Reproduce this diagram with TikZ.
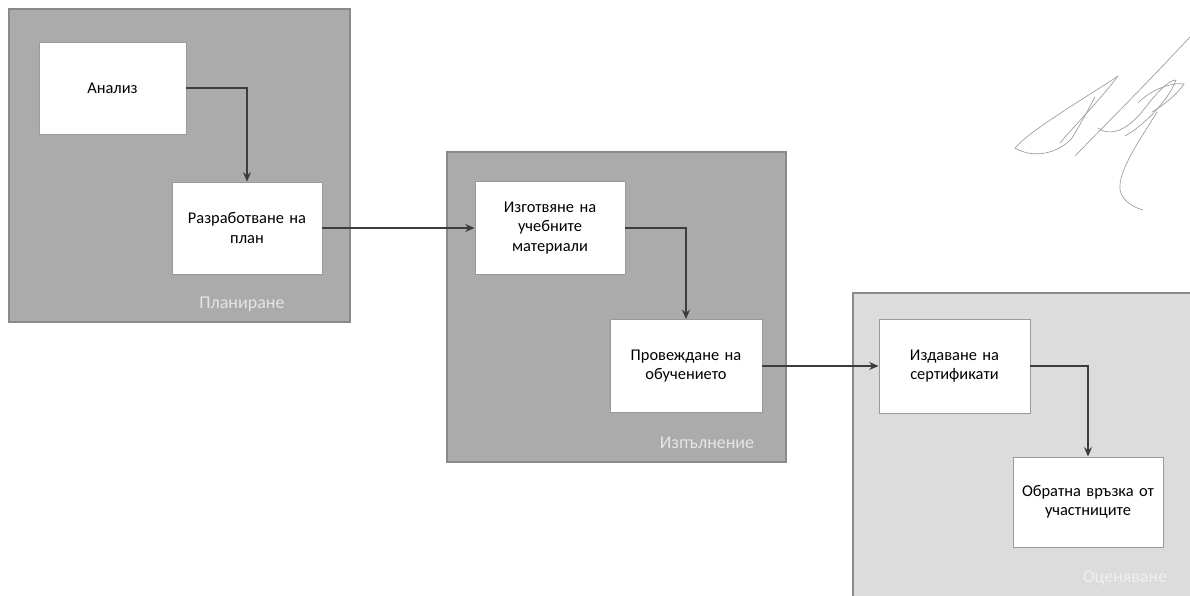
\documentclass[tikz,border=0pt]{standalone}
\usepackage{fontspec}
\setmainfont{Carlito}
\usetikzlibrary{arrows.meta}
\definecolor{panelA}{HTML}{ABABAB}
\definecolor{panelC}{HTML}{DCDCDC}
\definecolor{panelEdge}{HTML}{8A8A8A}
\definecolor{boxEdge}{HTML}{9A9A9A}
\definecolor{arrowCol}{HTML}{3C3C3C}
\definecolor{sigCol}{HTML}{9C9C9C}
\begin{document}
\begin{tikzpicture}[x=0.75pt,y=-0.75pt,
  panel/.style={draw=panelEdge, line width=0.8pt},
  stepbox/.style={draw=boxEdge, fill=white, line width=0.7pt, align=center,
    font=\fontsize{12.3}{14.5}\selectfont, inner sep=2pt},
  phase/.style={font=\fontsize{13.5}{15}\selectfont, text=white!90!black},
  flow/.style={draw=arrowCol, line width=1.1pt, -{Stealth[length=7pt,width=6pt]}},
  sig/.style={draw=sigCol, line width=0.5pt, line cap=round}
]
\useasboundingbox (0,0) rectangle (1190,596);
\fill[white] (0,0) rectangle (1190,596);

% panels
\filldraw[panel, fill=panelA] (9,9) rectangle (350,322);
\filldraw[panel, fill=panelA] (447,152) rectangle (786,462);
\filldraw[panel, fill=panelC] (853,293) rectangle (1196,602);

\node[phase] (p1) at (242,304) {Планиране};
\node[phase] (p2) at (707,443) {Изпълнение};
\node[phase, text=white!55!panelC] (p3) at (1125,578) {Оценяване};

% steps
\node[stepbox, minimum width=110.25pt, minimum height=69pt] (a) at (112.5,88) {Анализ};
\node[stepbox, minimum width=112.5pt, minimum height=69pt, text width=104pt] (b) at (247,228) {Разработване на\\план};
\node[stepbox, minimum width=112.5pt, minimum height=69.75pt, text width=104pt] (c) at (550,228) {Изготвяне на\\учебните\\материали};
\node[stepbox, minimum width=114pt, minimum height=69.75pt, text width=104pt] (d) at (686,366) {Провеждане на\\обучението};
\node[stepbox, minimum width=113.25pt, minimum height=70.5pt, text width=104pt] (e) at (954.5,366) {Издаване на\\сертификати};
\node[stepbox, minimum width=112.5pt, minimum height=67.5pt, text width=108pt] (f) at (1088,502) {Обратна връзка от\\участниците};

% connectors
\draw[flow] (a.east) -| (b.north);
\draw[flow] (b.east) -- (c.west);
\draw[flow] (c.east) -| (d.north);
\draw[flow] (d.east) -- (e.west);
\draw[flow] (e.east) -| (f.north);

% signature
\draw[sig] (1118,76) .. controls (1090,95) and (1030,130) .. (1015,148)
  .. controls (1035,160) and (1060,152) .. (1072,138)
  .. controls (1080,125) and (1088,110) .. (1095,97);
\draw[sig] (1118,76) .. controls (1100,100) and (1075,125) .. (1060,143);
\draw[sig] (1075,156) .. controls (1110,120) and (1150,80) .. (1190,37);
\draw[sig] (1098,128) .. controls (1112,138) and (1130,128) .. (1145,108)
  .. controls (1155,95) and (1168,80) .. (1176,80)
  .. controls (1170,98) and (1145,125) .. (1125,136);
\draw[sig] (1138,103) .. controls (1150,90) and (1172,82) .. (1184,84)
  .. controls (1176,96) and (1162,106) .. (1152,112);
\draw[sig] (1157,112) .. controls (1140,140) and (1118,170) .. (1120,190)
  .. controls (1122,200) and (1132,207) .. (1143,210);
\end{tikzpicture}
\end{document}
